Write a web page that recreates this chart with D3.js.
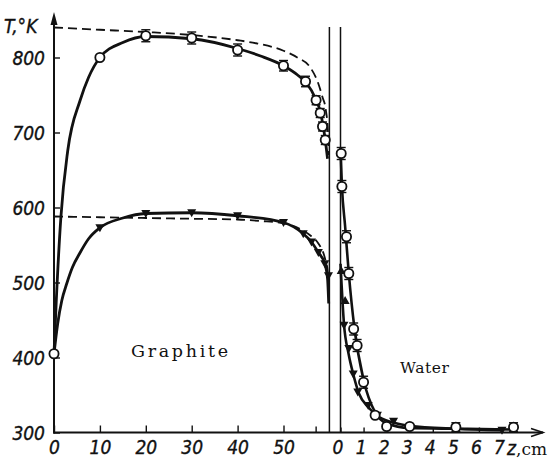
<!DOCTYPE html>
<html>
<head>
<meta charset="utf-8">
<script src="https://cdn.jsdelivr.net/npm/d3@7"></script>
<style>
  body { margin: 0; background: #fff; }
  svg { display: block; }
  .num { font-family: "Liberation Sans Narrow", "DejaVu Sans Condensed", "DejaVu Sans", sans-serif; font-stretch: condensed; font-style: italic; font-size: 19px; fill: #111; stroke: #111; stroke-width: 0.35px; }
  .word { font-family: "DejaVu Serif", "Liberation Serif", serif; font-size: 15px; fill: #111; }
</style>
</head>
<body>
<svg id="chart" width="555" height="464"></svg>
<script>
// ---- axis ticks ----
const graphiteTicks = [0, 10, 20, 30, 40, 50];
const graphiteMinorTicks = [57];
const waterTicks = [0, 1, 2, 3, 4, 5, 6, 7];
const tempTicks = [300, 400, 500, 600, 700, 800];

// ---- graphite side: measured points [position, T] ----
const graphiteCircles = [[0, 405], [10, 800], [20, 829], [30, 826], [40, 810], [50, 789],
  [54.8, 768], [57.1, 743], [58.0, 726], [58.5, 708], [59.1, 690]];
const graphiteCircleErr = [0, 0, 8, 8, 8, 7, 7, 6, 6, 6, 6];
const graphiteTriangles = [[10, 573], [20, 592], [30, 593], [40, 589], [50, 580],
  [54.3, 565], [56.1, 554], [57.6, 540], [59.0, 525], [59.8, 509]];

// ---- graphite side: smoothed curves ----
const graphiteUpperFit = [[0, 405], [0.5, 476], [1.5, 587], [3, 676], [5.7, 743], [7.5, 773],
  [10, 800], [15, 820], [20, 828], [30, 825], [40, 812], [45, 802], [50, 789], [53, 777],
  [55, 766], [57, 745], [58, 728], [58.6, 710], [59.1, 690], [59.6, 665]];
const graphiteLowerFit = [[0, 405], [0.8, 445], [1.7, 476], [2.8, 499], [4, 520], [5.7, 540],
  [7.5, 558], [10, 573], [15, 586], [20, 592], [30, 593], [40, 589], [50, 580],
  [54.3, 565], [56.1, 554], [57.6, 540], [59, 525], [59.6, 505], [59.85, 472]];
const graphiteUpperCalc = [[0, 840], [10, 837], [20, 834], [30, 830], [40, 823], [44, 819],
  [50, 809], [53, 800], [55.8, 787], [57.6, 765], [58.5, 747], [59.2, 731], [59.7, 700], [59.9, 670]];
const graphiteLowerCalc = [[0, 588], [10, 587], [20, 586], [30, 585], [40, 584], [45, 582],
  [50, 579], [54, 570], [56, 562], [57.6, 552], [59, 533], [59.7, 512], [59.9, 490]];

// ---- water side: measured points [z, T] ----
const waterCircles = [[0.03, 672], [0.06, 628], [0.26, 561], [0.36, 512], [0.57, 438],
  [0.72, 416], [1.0, 367], [1.5, 323], [2.0, 308], [3.0, 308], [5.0, 307], [7.5, 307]];
const waterCircleErr = [8, 8, 8, 8, 8, 8, 8, 0, 0, 0, 6, 6];
const waterTrianglesDown = [[0.15, 443], [0.36, 412], [0.55, 378], [0.75, 354], [1.2, 336],
  [1.6, 323], [2.3, 315], [7.0, 303]];
const waterTrianglesUp = [[0.03, 516], [0.2, 476]];

// ---- water side: smoothed curves ----
const waterUpperFit = [[0, 680], [0.06, 630], [0.2, 575], [0.36, 512], [0.6, 440], [1.0, 370],
  [1.5, 327], [2.0, 312], [3, 306], [5, 305], [7.5, 304]];
const waterLowerFit = [[0, 525], [0.15, 445], [0.35, 405], [0.55, 378], [0.8, 352], [1.2, 334],
  [1.6, 322], [2.2, 314], [3, 309], [5, 305], [7, 303]];

// ---- scales ----
const svg = d3.select("#chart");
const xG = d3.scaleLinear().domain([0, 60]).range([54, 329.4]);
const xW = d3.scaleLinear().domain([0, 7]).range([340.5, 502]);
const y = d3.scaleLinear().domain([300, 800]).range([432.5, 57.5]);
const yTop = 12, xEnd = 543;

// ---- axes ----
const yAxis = d3.axisLeft(y).tickValues(tempTicks).tickSizeInner(-6).tickSizeOuter(0).tickPadding(9);
const gy = svg.append("g").attr("transform", `translate(${xG(0)},0)`).call(yAxis);
const xAxisG = d3.axisBottom(xG).tickValues(graphiteTicks).tickSizeInner(-7).tickSizeOuter(0)
  .tickPadding(8).tickFormat(d3.format("d"));
const gxG = svg.append("g").attr("transform", `translate(0,${y(300)})`).call(xAxisG);
const gxM = svg.append("g").attr("transform", `translate(0,${y(300)})`)
  .call(d3.axisBottom(xG).tickValues(graphiteMinorTicks).tickSizeInner(-6).tickSizeOuter(0).tickFormat(""));
const xAxisW = d3.axisBottom(xW).tickValues(waterTicks).tickSizeInner(-5).tickSizeOuter(0)
  .tickPadding(8).tickFormat(d3.format("d"));
const gxW = svg.append("g").attr("transform", `translate(0,${y(300)})`).call(xAxisW);

[gy, gxG, gxM, gxW].forEach(g => {
  g.select(".domain").remove();
  g.selectAll(".tick line").attr("stroke", "#111").attr("stroke-width", 1.4);
  g.selectAll(".tick text").attr("class", "num").attr("fill", null).attr("font-size", null).attr("font-family", null);
});
gxW.selectAll(".tick text").attr("dx", -3);
gy.selectAll(".tick text").attr("dy", "0.36em");

// axis lines with arrows
svg.append("line").attr("x1", xG(0)).attr("x2", xG(0)).attr("y1", y(300) + 1).attr("y2", yTop + 4)
  .attr("stroke", "#111").attr("stroke-width", 2);
svg.append("path").attr("d", `M${xG(0)},${yTop} L${xG(0) - 3.5},${yTop + 13} L${xG(0) + 3.5},${yTop + 13} Z`).attr("fill", "#111");
svg.append("line").attr("x1", xG(0) - 1).attr("x2", xEnd).attr("y1", y(300)).attr("y2", y(300))
  .attr("stroke", "#111").attr("stroke-width", 2);
svg.append("path").attr("d", `M${xEnd - 12},${y(300) - 4} L${xEnd},${y(300)} L${xEnd - 12},${y(300) + 4}`)
  .attr("fill", "none").attr("stroke", "#111").attr("stroke-width", 1.6);

// boundary walls
[xG(60), xW(0)].forEach(px => {
  svg.append("line").attr("x1", px).attr("x2", px).attr("y1", 27).attr("y2", y(300))
    .attr("stroke", "#111").attr("stroke-width", 1.5);
});

// ---- curves ----
const lineG = d3.line().x(d => xG(d[0])).y(d => y(d[1])).curve(d3.curveMonotoneX);
const lineW = d3.line().x(d => xW(d[0])).y(d => y(d[1])).curve(d3.curveMonotoneX);

[graphiteUpperCalc, graphiteLowerCalc].forEach(data => {
  svg.append("path").attr("d", lineG(data)).attr("fill", "none").attr("stroke", "#111")
    .attr("stroke-width", 1.8).attr("stroke-dasharray", "9,5");
});
[graphiteUpperFit, graphiteLowerFit].forEach(data => {
  svg.append("path").attr("d", lineG(data)).attr("fill", "none").attr("stroke", "#111")
    .attr("stroke-width", 2.8).attr("stroke-linejoin", "round");
});
[waterUpperFit, waterLowerFit].forEach(data => {
  svg.append("path").attr("d", lineW(data)).attr("fill", "none").attr("stroke", "#111")
    .attr("stroke-width", 2.6).attr("stroke-linejoin", "round");
});

// ---- markers ----
function errorBars(data, errs, sx) {
  data.forEach((d, i) => {
    const e = errs[i];
    if (!e) return;
    const cx = sx(d[0]);
    const g = svg.append("g").attr("stroke", "#111").attr("stroke-width", 1.4);
    g.append("line").attr("x1", cx).attr("x2", cx).attr("y1", y(d[1] + e)).attr("y2", y(d[1] - e));
    [d[1] + e, d[1] - e].forEach(v => {
      g.append("line").attr("x1", cx - 4.5).attr("x2", cx + 4.5).attr("y1", y(v)).attr("y2", y(v));
    });
  });
}
function circles(data, sx) {
  svg.append("g").selectAll("circle").data(data).join("circle")
    .attr("cx", d => sx(d[0])).attr("cy", d => y(d[1])).attr("r", 4.6)
    .attr("fill", "#fff").attr("stroke", "#111").attr("stroke-width", 1.8);
}
function triangles(data, sx, up) {
  const s = up ? -1 : 1;
  svg.append("g").selectAll("path").data(data).join("path")
    .attr("d", d => {
      const cx = sx(d[0]), cy = y(d[1]);
      return `M${cx - 4.5},${cy - 3.5 * s} L${cx + 4.5},${cy - 3.5 * s} L${cx},${cy + 4.5 * s} Z`;
    })
    .attr("fill", "#111");
}

errorBars(graphiteCircles, graphiteCircleErr, xG);
errorBars(waterCircles, waterCircleErr, xW);
triangles(graphiteTriangles, xG, false);
triangles(waterTrianglesDown, xW, false);
triangles(waterTrianglesUp, xW, true);
circles(graphiteCircles, xG);
circles(waterCircles, xW);

// ---- labels ----
svg.append("text").attr("class", "num").attr("x", 4).attr("y", 33).text("T,°K");
svg.append("text").attr("class", "word").attr("x", 131).attr("y", 357)
  .attr("textLength", 97).attr("lengthAdjust", "spacing").style("font-size", "17.5px").text("Graphite");
svg.append("text").attr("class", "word").attr("x", 400).attr("y", 373)
  .attr("textLength", 49).attr("lengthAdjust", "spacing").style("font-size", "15.5px").text("Water");
const zl = svg.append("text").attr("x", 507).attr("y", 455);
zl.append("tspan").attr("class", "num").text("z");
zl.append("tspan").attr("class", "word").style("font-size", "17px").text(",cm");
</script>
</body>
</html>
